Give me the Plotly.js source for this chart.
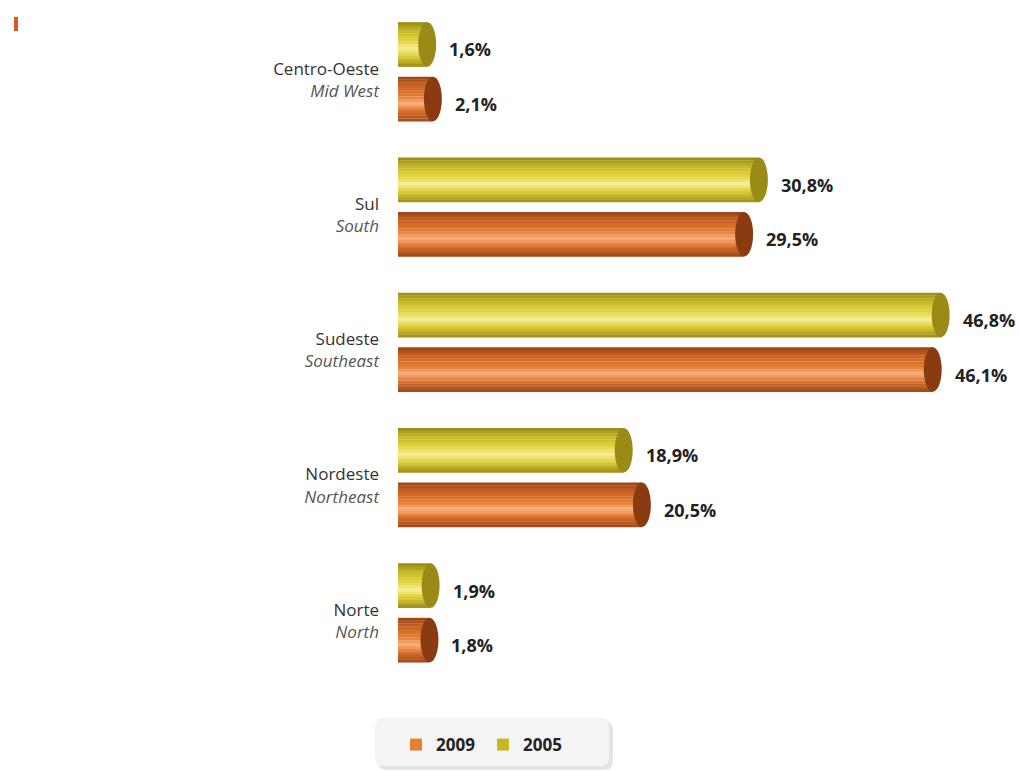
<!DOCTYPE html>
<html>
<head>
<meta charset="utf-8">
<script src="https://cdn.plot.ly/plotly-3.0.1.min.js"></script>
<style>html,body{margin:0;padding:0;background:#fff;}#chart{width:1020px;height:771px;}</style>
</head>
<body>
<div id="chart"></div>
<script>
// ---- data ----
const regions = ["Centro-Oeste", "Sul", "Sudeste", "Nordeste", "Norte"];
const regionsEn = ["Mid West", "South", "Southeast", "Northeast", "North"];
const values2005 = [1.6, 30.8, 46.8, 18.9, 1.9];
const values2009 = [2.1, 29.5, 46.1, 20.5, 1.8];
const seriesNames = ["2005", "2009"];

// ---- styling ----
const AX0 = -0.97;            // where cylinders start on the value axis
const BAR_W = 0.329;          // bar thickness in category units
const GAP = 0.037;            // half gap between the two bars of a pair
const CAP = 0.79;             // half width of the end-cap ellipse (value units)
const N_STRIPES = 16;         // shading stripes per cylinder
const fmt = v => v.toFixed(1).replace('.', ',') + '%';

// plot-area geometry in pixels (for paper-coordinate decorations)
const PL = 398, PW = 602, PT = 4, PH = 690;
const px2paperX = px => (px - PL) / PW;
const px2paperY = py => (PT + PH - py) / PH;

// shading profile: colour stops from top edge (0) to bottom edge (1)
const palettes = {
  "2005": {stops: [[0, [150, 136, 20]], [0.2, [198, 182, 36]], [0.45, [230, 216, 70]], [0.6, [246, 238, 150]], [0.75, [224, 208, 58]], [1, [156, 140, 18]]],
           cap: '#9a8b16', legend: '#c9b526'},
  "2009": {stops: [[0, [150, 66, 20]], [0.2, [202, 98, 34]], [0.45, [230, 126, 52]], [0.6, [246, 176, 124]], [0.75, [224, 118, 48]], [1, [156, 70, 22]]],
           cap: '#8a3b12', legend: '#e97f2c'}
};
function shade(stops, t) {
  for (let k = 1; k < stops.length; k++) {
    if (t <= stops[k][0]) {
      const a = stops[k - 1], b = stops[k];
      const f = (t - a[0]) / (b[0] - a[0]);
      const c = a[1].map((x, j) => Math.round(x + (b[1][j] - x) * f));
      return 'rgb(' + c.join(',') + ')';
    }
  }
  return 'rgb(' + stops[stops.length - 1][1].join(',') + ')';
}
const offsets = {"2005": -(GAP + BAR_W), "2009": GAP};
const dataBySeries = {"2005": values2005, "2009": values2009};

const traces = [];
const shapes = [];
const annotations = [];
seriesNames.forEach(name => {
  const vals = dataBySeries[name];
  const pal = palettes[name];
  const off = offsets[name];
  const center = off + BAR_W / 2;
  const sw = BAR_W / N_STRIPES;
  for (let s = 0; s < N_STRIPES; s++) {
    traces.push({
      type: 'bar', orientation: 'h',
      name: name,
      x: vals.map(v => v - AX0),
      base: vals.map(() => AX0),
      y: regions,
      width: vals.map(() => sw * 1.08),
      offset: vals.map(() => off + s * sw),
      marker: {color: shade(pal.stops, (s + 0.5) / N_STRIPES), line: {width: 0}},
      showlegend: false,
      hoverinfo: 'skip'
    });
  }
  vals.forEach((v, i) => {
    shapes.push({
      type: 'circle', xref: 'x', yref: 'y', layer: 'above',
      x0: v - CAP, x1: v + CAP,
      y0: i + off, y1: i + off + BAR_W,
      fillcolor: pal.cap, line: {width: 0}
    });
    annotations.push({
      x: v, y: i + center, xref: 'x', yref: 'y',
      text: '<b>' + fmt(v) + '</b>', showarrow: false,
      xanchor: 'left', yanchor: 'middle', xshift: 20, yshift: -5,
      font: {family: 'Open Sans, sans-serif', size: 18, color: '#222'}
    });
  });
});

// legend entries with flat colours
seriesNames.forEach(name => {
  traces.push({
    type: 'bar', orientation: 'h', name: name,
    x: [null], y: [regions[0]],
    marker: {color: palettes[name].legend},
    showlegend: true, legendrank: name === "2009" ? 1 : 2, hoverinfo: 'skip'
  });
});

// rounded legend panel with a soft shadow (paper coordinates)
function roundedRect(x0, y0, x1, y1, r) {
  const X = px2paperX, Y = px2paperY;
  return 'M' + X(x0 + r) + ',' + Y(y0) +
    ' L' + X(x1 - r) + ',' + Y(y0) + ' Q' + X(x1) + ',' + Y(y0) + ' ' + X(x1) + ',' + Y(y0 + r) +
    ' L' + X(x1) + ',' + Y(y1 - r) + ' Q' + X(x1) + ',' + Y(y1) + ' ' + X(x1 - r) + ',' + Y(y1) +
    ' L' + X(x0 + r) + ',' + Y(y1) + ' Q' + X(x0) + ',' + Y(y1) + ' ' + X(x0) + ',' + Y(y1 - r) +
    ' L' + X(x0) + ',' + Y(y0 + r) + ' Q' + X(x0) + ',' + Y(y0) + ' ' + X(x0 + r) + ',' + Y(y0) + ' Z';
}
shapes.push({type: 'path', xref: 'paper', yref: 'paper', layer: 'below',
  path: roundedRect(378, 721, 613, 770, 9), fillcolor: '#e4e4e6', line: {width: 0}});
shapes.push({type: 'path', xref: 'paper', yref: 'paper', layer: 'below',
  path: roundedRect(375, 718, 609, 766, 9), fillcolor: '#f4f4f5', line: {width: 0}});

// small page marker at top-left
shapes.push({type: 'rect', xref: 'paper', yref: 'paper', layer: 'above',
  x0: px2paperX(14), x1: px2paperX(18), y0: px2paperY(31), y1: px2paperY(17),
  fillcolor: '#e0562a', line: {width: 0}});

const layout = {
  width: 1020, height: 771,
  margin: {l: PL, r: 1020 - PL - PW, t: PT, b: 771 - PT - PH},
  paper_bgcolor: '#ffffff', plot_bgcolor: 'rgba(0,0,0,0)',
  barmode: 'overlay',
  showlegend: true,
  xaxis: {range: [AX0, AX0 + PW / 11.36], visible: false, fixedrange: true},
  yaxis: {
    type: 'category', categoryorder: 'array', categoryarray: regions,
    range: [4.6, -0.5],
    tickvals: regions,
    ticktext: regions.map((r, i) => r + '<br><span style="font-style:italic;fill:#555">' + regionsEn[i] + '</span>'),
    tickfont: {family: 'Open Sans, sans-serif', size: 17, color: '#333'},
    ticks: '', showline: false, showgrid: false, zeroline: false,
    ticklabelstandoff: 18, ticklabelshift: -8
  },
  legend: {
    orientation: 'h', x: px2paperX(396), xanchor: 'left', y: px2paperY(745), yanchor: 'middle',
    bgcolor: 'rgba(0,0,0,0)', borderwidth: 0,
    font: {family: 'Open Sans, sans-serif', size: 17, color: '#222', weight: 'bold'},
    itemwidth: 30, entrywidth: 42
  },
  shapes: shapes,
  annotations: annotations
};

Plotly.newPlot('chart', traces, layout, {displayModeBar: false, staticPlot: true});
</script>
</body>
</html>
